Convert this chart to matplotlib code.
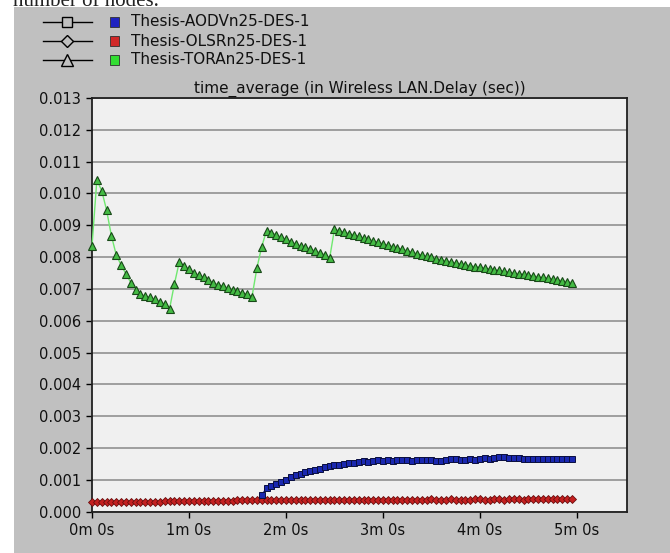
import numpy as np
import matplotlib
matplotlib.use("Agg")
import matplotlib.pyplot as plt
from matplotlib.lines import Line2D
from matplotlib.patches import Rectangle
from matplotlib.ticker import FixedLocator, FuncFormatter

plt.rcParams['font.family'] = ['DejaVu Sans']

# ---- data: time_average of Wireless LAN delay (values in ms, sampled every 3 s) ----
series_labels = ["Thesis-AODVn25-DES-1", "Thesis-OLSRn25-DES-1", "Thesis-TORAn25-DES-1"]

tora_time_s = np.arange(0, 300, 3)
tora_delay_ms = [
    8.35, 10.42, 10.09, 9.48, 8.67, 8.07, 7.75, 7.47, 7.20, 6.97,
    6.84, 6.77, 6.74, 6.67, 6.58, 6.53, 6.38, 7.16, 7.85,
    7.72, 7.62, 7.51, 7.43, 7.36, 7.28, 7.20, 7.13, 7.09, 7.03,
    6.97, 6.92, 6.88, 6.84, 6.76,
    7.65, 8.33, 8.83,
    8.77, 8.70, 8.62, 8.56, 8.49, 8.41, 8.35, 8.31, 8.25, 8.19,
    8.14, 8.07, 7.96,
    8.87, 8.83, 8.78, 8.74, 8.70, 8.65, 8.60, 8.56, 8.51, 8.46,
    8.42, 8.37, 8.33, 8.28, 8.24, 8.20, 8.15, 8.11, 8.06, 8.02,
    7.99, 7.95, 7.92, 7.88, 7.85, 7.82, 7.79, 7.76, 7.73, 7.70,
    7.68, 7.65, 7.63, 7.60, 7.58, 7.55, 7.53, 7.50, 7.48, 7.46,
    7.43, 7.41, 7.38, 7.36, 7.33, 7.31, 7.28, 7.26, 7.23, 7.20,
]

olsr_time_s = np.arange(0, 300, 3)
olsr_delay_ms = [
    0.29, 0.29, 0.29, 0.30, 0.30, 0.30, 0.30, 0.31, 0.31, 0.31,
    0.31, 0.32, 0.32, 0.32, 0.32, 0.33, 0.33, 0.33, 0.33, 0.34,
    0.34, 0.34, 0.34, 0.34, 0.35, 0.35, 0.35, 0.35, 0.35, 0.35,
    0.36, 0.36, 0.36, 0.36, 0.36, 0.36, 0.36, 0.37, 0.37, 0.37,
    0.37, 0.37, 0.37, 0.37, 0.37, 0.37, 0.38, 0.38, 0.38, 0.38,
    0.38, 0.38, 0.38, 0.38, 0.38, 0.38, 0.38, 0.38, 0.38, 0.38,
    0.38, 0.38, 0.38, 0.38, 0.38, 0.38, 0.38, 0.38, 0.38, 0.38,
    0.39, 0.38, 0.38, 0.38, 0.39, 0.38, 0.38, 0.38, 0.38, 0.39,
    0.39, 0.38, 0.38, 0.39, 0.39, 0.38, 0.39, 0.39, 0.39, 0.38,
    0.39, 0.39, 0.39, 0.39, 0.39, 0.39, 0.39, 0.39, 0.39, 0.39,
]

aodv_time_s = np.arange(105, 300, 3)
aodv_delay_ms = [
    0.52, 0.75, 0.80, 0.86, 0.92, 1.00, 1.08, 1.15, 1.20, 1.24,
    1.28, 1.31, 1.35, 1.40, 1.45, 1.47, 1.46, 1.49, 1.52, 1.54,
    1.56, 1.58, 1.57, 1.59, 1.61, 1.60,
    1.62, 1.60, 1.61, 1.63, 1.61, 1.60, 1.62, 1.61, 1.63, 1.62,
    1.60, 1.58, 1.61, 1.65, 1.66, 1.64, 1.63, 1.65, 1.64, 1.66,
    1.68, 1.67, 1.69, 1.71, 1.72, 1.70, 1.69, 1.68, 1.67, 1.67,
    1.67, 1.66, 1.66, 1.66, 1.66, 1.66, 1.66, 1.66, 1.66,
]

y_ticks = [0.000, 0.001, 0.002, 0.003, 0.004, 0.005, 0.006,
           0.007, 0.008, 0.009, 0.010, 0.011, 0.012, 0.013]
x_ticks_s = [0, 60, 120, 180, 240, 300]

# ---- figure & panel ----
W, H = 670, 553
fig = plt.figure(figsize=(W / 100, H / 100), dpi=100)
fig.patch.set_facecolor("white")

panel_gray = "#c0c0c0"
fig.patches.append(Rectangle((14 / W, 0), 1 - 14 / W, 1 - 7 / H,
                             transform=fig.transFigure, facecolor=panel_gray,
                             edgecolor="none", zorder=-10))
fig.text(13 / W, 1 - 5.5 / H, "number of nodes.", family="Liberation Serif",
         fontsize=15, va="baseline", ha="left", color="#222222", zorder=-20)

# ---- axes ----
left, right, top, bottom = 92, 627, 98, 511.7
ax = fig.add_axes([left / W, (H - bottom) / H, (right - left) / W, (bottom - top) / H])
ax.set_zorder(1)
ax.set_facecolor("#f0f0f0")
ax.set_xlim(0, 331)
ax.set_ylim(0, 0.013)

ax.yaxis.set_major_locator(FixedLocator(y_ticks))
ax.yaxis.set_major_formatter(FuncFormatter(lambda v, p: f"{v:.3f}"))
ax.xaxis.set_major_locator(FixedLocator(x_ticks_s))
ax.xaxis.set_major_formatter(FuncFormatter(lambda v, p: f"{int(v // 60)}m {int(v % 60)}s"))

ax.grid(axis="y", color="#909090", lw=1.2, zorder=1)
ax.set_axisbelow(True)
ax.tick_params(direction="out", length=4, width=1, color="black",
               labelsize=10.5, pad=4, labelcolor="#111111")
for s in ax.spines.values():
    s.set_color("#202020")
    s.set_linewidth(1.3)

ax.set_title("time_average (in Wireless LAN.Delay (sec))", fontsize=11,
             pad=4, color="#111111")

ms_to_s = 1e-3
ax.plot(olsr_time_s, np.array(olsr_delay_ms) * ms_to_s, color="#c83030", lw=1,
        marker="D", ms=4.2, mfc="#c42020", mec="#6a0e0e", mew=0.6, zorder=3, clip_on=False)
ax.plot(aodv_time_s, np.array(aodv_delay_ms) * ms_to_s, color="#2030c0", lw=1,
        marker="s", ms=5, mfc="#1a28b0", mec="#0a0f40", mew=0.7, zorder=4, clip_on=False)
ax.plot(tora_time_s, np.array(tora_delay_ms) * ms_to_s, color="#70e870", lw=1,
        marker="^", ms=6.3, mfc="#44bb44", mec="#184818", mew=0.8, zorder=5, clip_on=False)

# ---- legend drawn in the gray panel ----
legend_rows = [
    (series_labels[0], "s", 7, "#1e22c0"),
    (series_labels[1], "D", 6.5, "#d02828"),
    (series_labels[2], "^", 9, "#33dd33"),
]
for i, (lab, mk, msz, col) in enumerate(legend_rows):
    yc = 1 - (22 + 19 * i) / H
    fig.add_artist(Line2D([43 / W, 92 / W], [yc, yc], transform=fig.transFigure,
                          color="black", lw=1))
    fig.add_artist(Line2D([67 / W], [yc], transform=fig.transFigure, marker=mk,
                          ms=msz, mfc=panel_gray, mec="black", mew=1, lw=0))
    fig.patches.append(Rectangle((110 / W, yc - 4.5 / H), 9 / W, 9 / H,
                                 transform=fig.transFigure, facecolor=col,
                                 edgecolor="#303030", lw=0.6, zorder=2))
    fig.text(131 / W, yc, lab, fontsize=11, va="center", ha="left", color="#111111")

fig.savefig("out.png", dpi=100, facecolor=fig.get_facecolor())
